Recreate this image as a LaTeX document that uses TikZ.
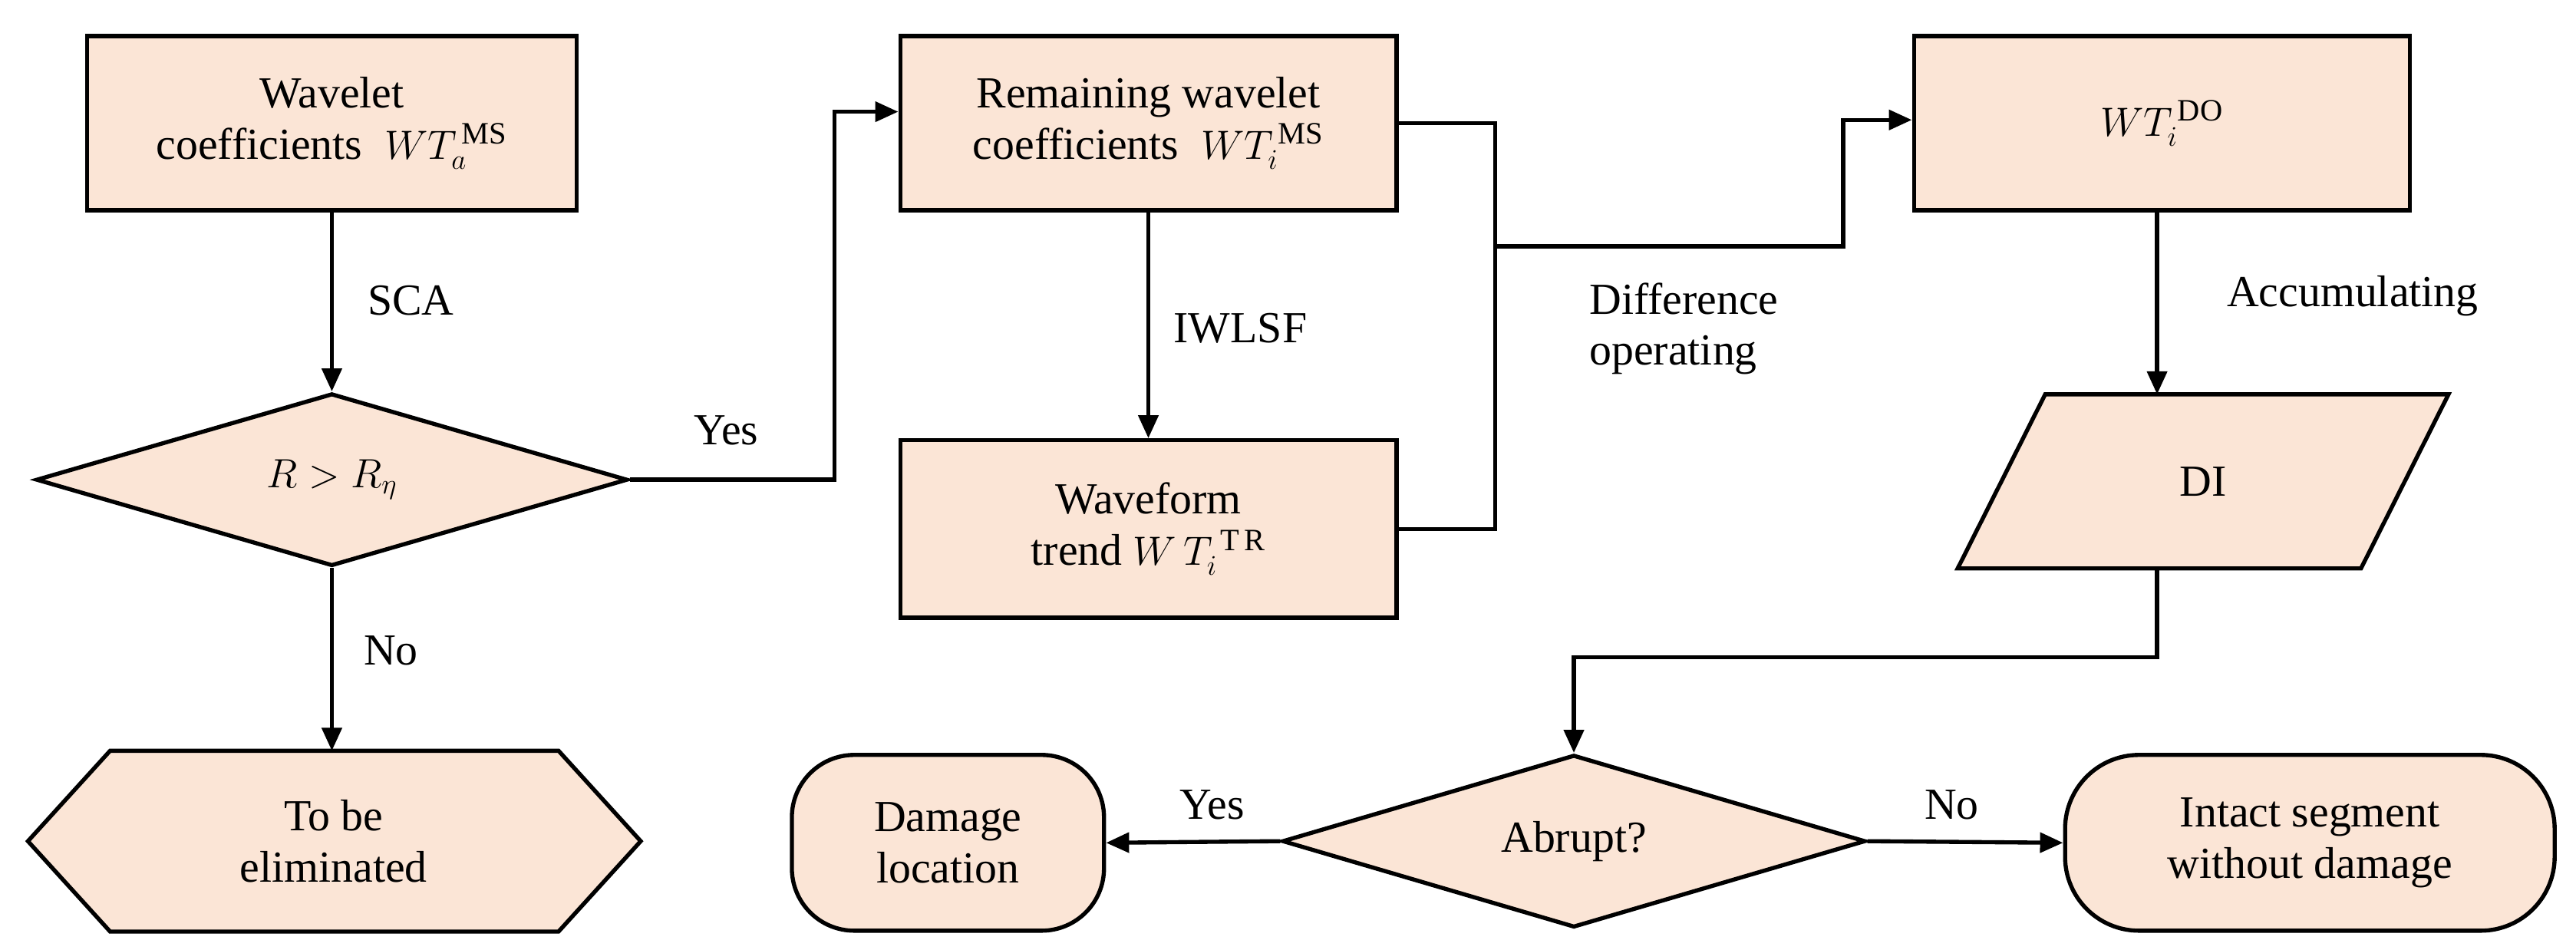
\documentclass[tikz,border=0pt]{standalone}
\usepackage{fontspec}
\setmainfont{Liberation Serif}
\usetikzlibrary{shapes.geometric,arrows.meta}
\definecolor{peach}{HTML}{FBE5D6}
\begin{document}
\begin{tikzpicture}[x=1pt,y=-1pt,
  every node/.style={font=\fontsize{27}{31}\selectfont},
  box/.style={draw,line width=2.5pt,fill=peach,align=center,inner sep=0pt},
  ln/.style={line width=2.5pt},
  ar/.style={line width=2.5pt,-{Triangle[length=14pt,width=12pt]}},
  lab/.style={align=left}]
\useasboundingbox (0,0) rectangle (1568,578);
\node[box,minimum width=298pt,minimum height=106pt] (b1) at (202,75) {Wavelet\\coefficients\ \ $WT_a^{\,\mathrm{MS}}$};
\node[box,diamond,aspect=3.43,minimum width=360pt,minimum height=105pt] (d1) at (202,292) {$R > R_\eta$};
\node[box,regular polygon,regular polygon sides=6,shape border rotate=90,minimum size=10pt,draw=none,fill=none] (dummy) at (0,0) {};
\draw[ln,fill=peach] (17,512)--(67,457)--(340,457)--(390,512)--(340,567)--(67,567)--cycle;
\node[align=center] (h1) at (203,512) {To be\\eliminated};
\coordinate (h1t) at (202,457);
\node[box,minimum width=302pt,minimum height=106pt] (b2) at (699,75) {Remaining wavelet\\coefficients\ \ $WT_i^{\,\mathrm{MS}}$};
\node[box,minimum width=302pt,minimum height=108pt] (b3) at (699,322) {Waveform\\trend $W\,T_i^{\;\mathrm{T\,R}}$};
\node[box,minimum width=302pt,minimum height=106pt] (b4) at (1316,75) {$WT_i^{\,\mathrm{DO}}$};
\node[box,trapezium,trapezium left angle=66,trapezium right angle=114,minimum width=300pt,minimum height=106pt,trapezium stretches=true] (p) at (1341,293) {DI};
\node[box,diamond,aspect=3.38,minimum width=355pt,minimum height=105pt] (d2) at (958,512) {Abrupt?};
\node[box,rounded corners=38pt,minimum width=190pt,minimum height=107pt] (r1) at (577,513) {Damage\\location};
\node[box,rounded corners=45pt,minimum width=298pt,minimum height=107pt] (r2) at (1406,513) {Intact segment\\without damage};
% connectors
\draw[ar] (b1) -- (d1);
\node at (250,183) {SCA};
\draw[ar] (d1.south) -- (h1t);
\node at (238,396) {No};
\draw[ar] (d1.east) -- (508,292) -- (508,68) -- (b2.west|-0,68);
\node at (442,262) {Yes};
\draw[ar] (b2) -- (b3);
\node at (755,200) {IWLSF};
\coordinate (j) at (910,150);
\draw[ln] (b2.east|-0,75) -- (910,75) -- (910,322) -- (b3.east);
\draw[ar] (j) -- (1122,150) -- (1122,73) -- (b4.west|-0,73);
\node[lab] at (1025,200) {Difference\\operating};
\draw[ar] (b4.south-|1313,0) -- (1313,240);
\node at (1432,180) {Accumulating};
\draw[ar] (1313,346) -- (1313,400) -- (958,400) -- (d2.north);
\draw[ar] (d2.west) -- (r1.east);
\node at (738,490) {Yes};
\draw[ar] (d2.east) -- (r2.west);
\node at (1188,490) {No};
\end{tikzpicture}
\end{document}
